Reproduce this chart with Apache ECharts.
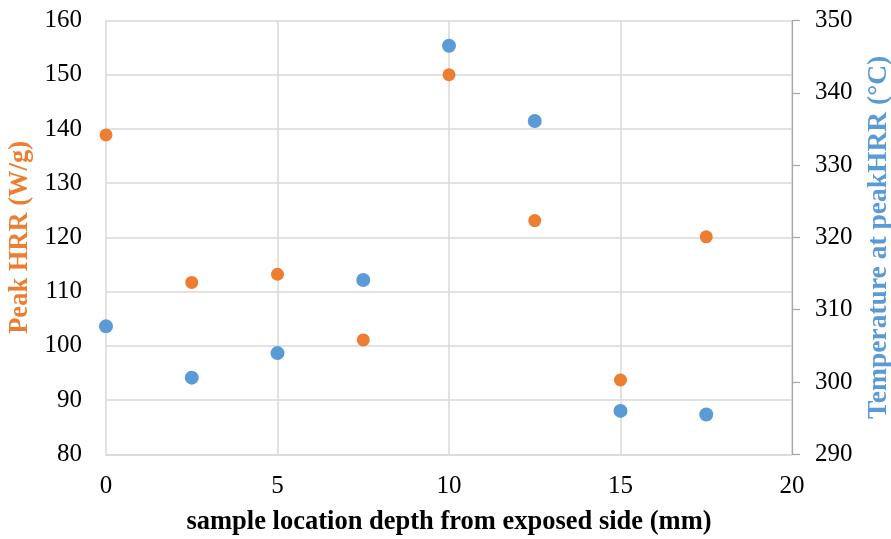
<!DOCTYPE html>
<html><head><meta charset="utf-8">
<script src="https://cdn.jsdelivr.net/npm/echarts@6/dist/echarts.min.js"></script>
<style>html,body{margin:0;padding:0;background:#fff}#c{width:891px;height:539px}</style>
</head><body><div id="c"></div>
<script>
const depth = [0, 2.5, 5, 7.5, 10, 12.5, 15, 17.5];
const peakHRR = [138.9, 111.7, 113.2, 101.1, 150.0, 123.1, 93.7, 120.1];
const tempAtPeak = [307.7, 300.6, 304.0, 314.1, 346.5, 336.1, 296.0, 295.5];
const xTitle = 'sample location depth from exposed side (mm)';
const yLeftTitle = 'Peak HRR (W/g)';
const yRightTitle = 'Temperature at peakHRR (°C)';
const ORANGE = '#ED7D31', BLUE = '#5B9BD5';
const FONT = 'Liberation Serif';
const chart = echarts.init(document.getElementById('c'));
chart.setOption({
  animation: false,
  grid: {left: 106, right: 99, top: 20.5, bottom: 84.7, containLabel: false, outerBoundsMode: 'none'},
  xAxis: {
    type: 'value', min: 0, max: 20, interval: 5,
    name: xTitle, nameLocation: 'middle', nameGap: 54,
    nameTextStyle: {fontFamily: FONT, fontWeight: 'bold', fontSize: 26.5, color: '#000'},
    axisLine: {show: true, onZero: false, lineStyle: {color: '#d9d9d9', width: 1.5}},
    axisTick: {show: false},
    axisLabel: {fontFamily: FONT, fontSize: 25, color: '#000', margin: 20},
    splitLine: {show: true, lineStyle: {color: '#d9d9d9', width: 1.5}}
  },
  yAxis: [{
    type: 'value', min: 80, max: 160, interval: 10, position: 'left',
    name: yLeftTitle, nameLocation: 'middle', nameGap: 69,
    nameTextStyle: {fontFamily: FONT, fontWeight: 'bold', fontSize: 26.5, color: ORANGE},
    axisLine: {show: false}, axisTick: {show: false},
    axisLabel: {fontFamily: FONT, fontSize: 25, color: '#000', margin: 24},
    splitLine: {show: true, lineStyle: {color: '#d9d9d9', width: 1.5}}
  }, {
    type: 'value', min: 290, max: 350, interval: 10, position: 'right',
    name: yRightTitle, nameLocation: 'middle', nameGap: 73, nameRotate: 90,
    nameTextStyle: {fontFamily: FONT, fontWeight: 'bold', fontSize: 27.5, color: BLUE},
    axisLine: {show: true, lineStyle: {color: '#a6a6a6', width: 1.2}},
    axisTick: {show: true, length: 8, lineStyle: {color: '#a6a6a6', width: 1.2}},
    axisLabel: {fontFamily: FONT, fontSize: 25, color: '#000', margin: 23},
    splitLine: {show: false}
  }],
  series: [{
    type: 'scatter', yAxisIndex: 0, symbolSize: 13,
    itemStyle: {color: ORANGE, opacity: 1},
    data: depth.map((d, i) => [d, peakHRR[i]])
  }, {
    type: 'scatter', yAxisIndex: 1, symbolSize: 14,
    itemStyle: {color: BLUE, opacity: 1},
    data: depth.map((d, i) => [d, tempAtPeak[i]])
  }]
});
</script></body></html>
